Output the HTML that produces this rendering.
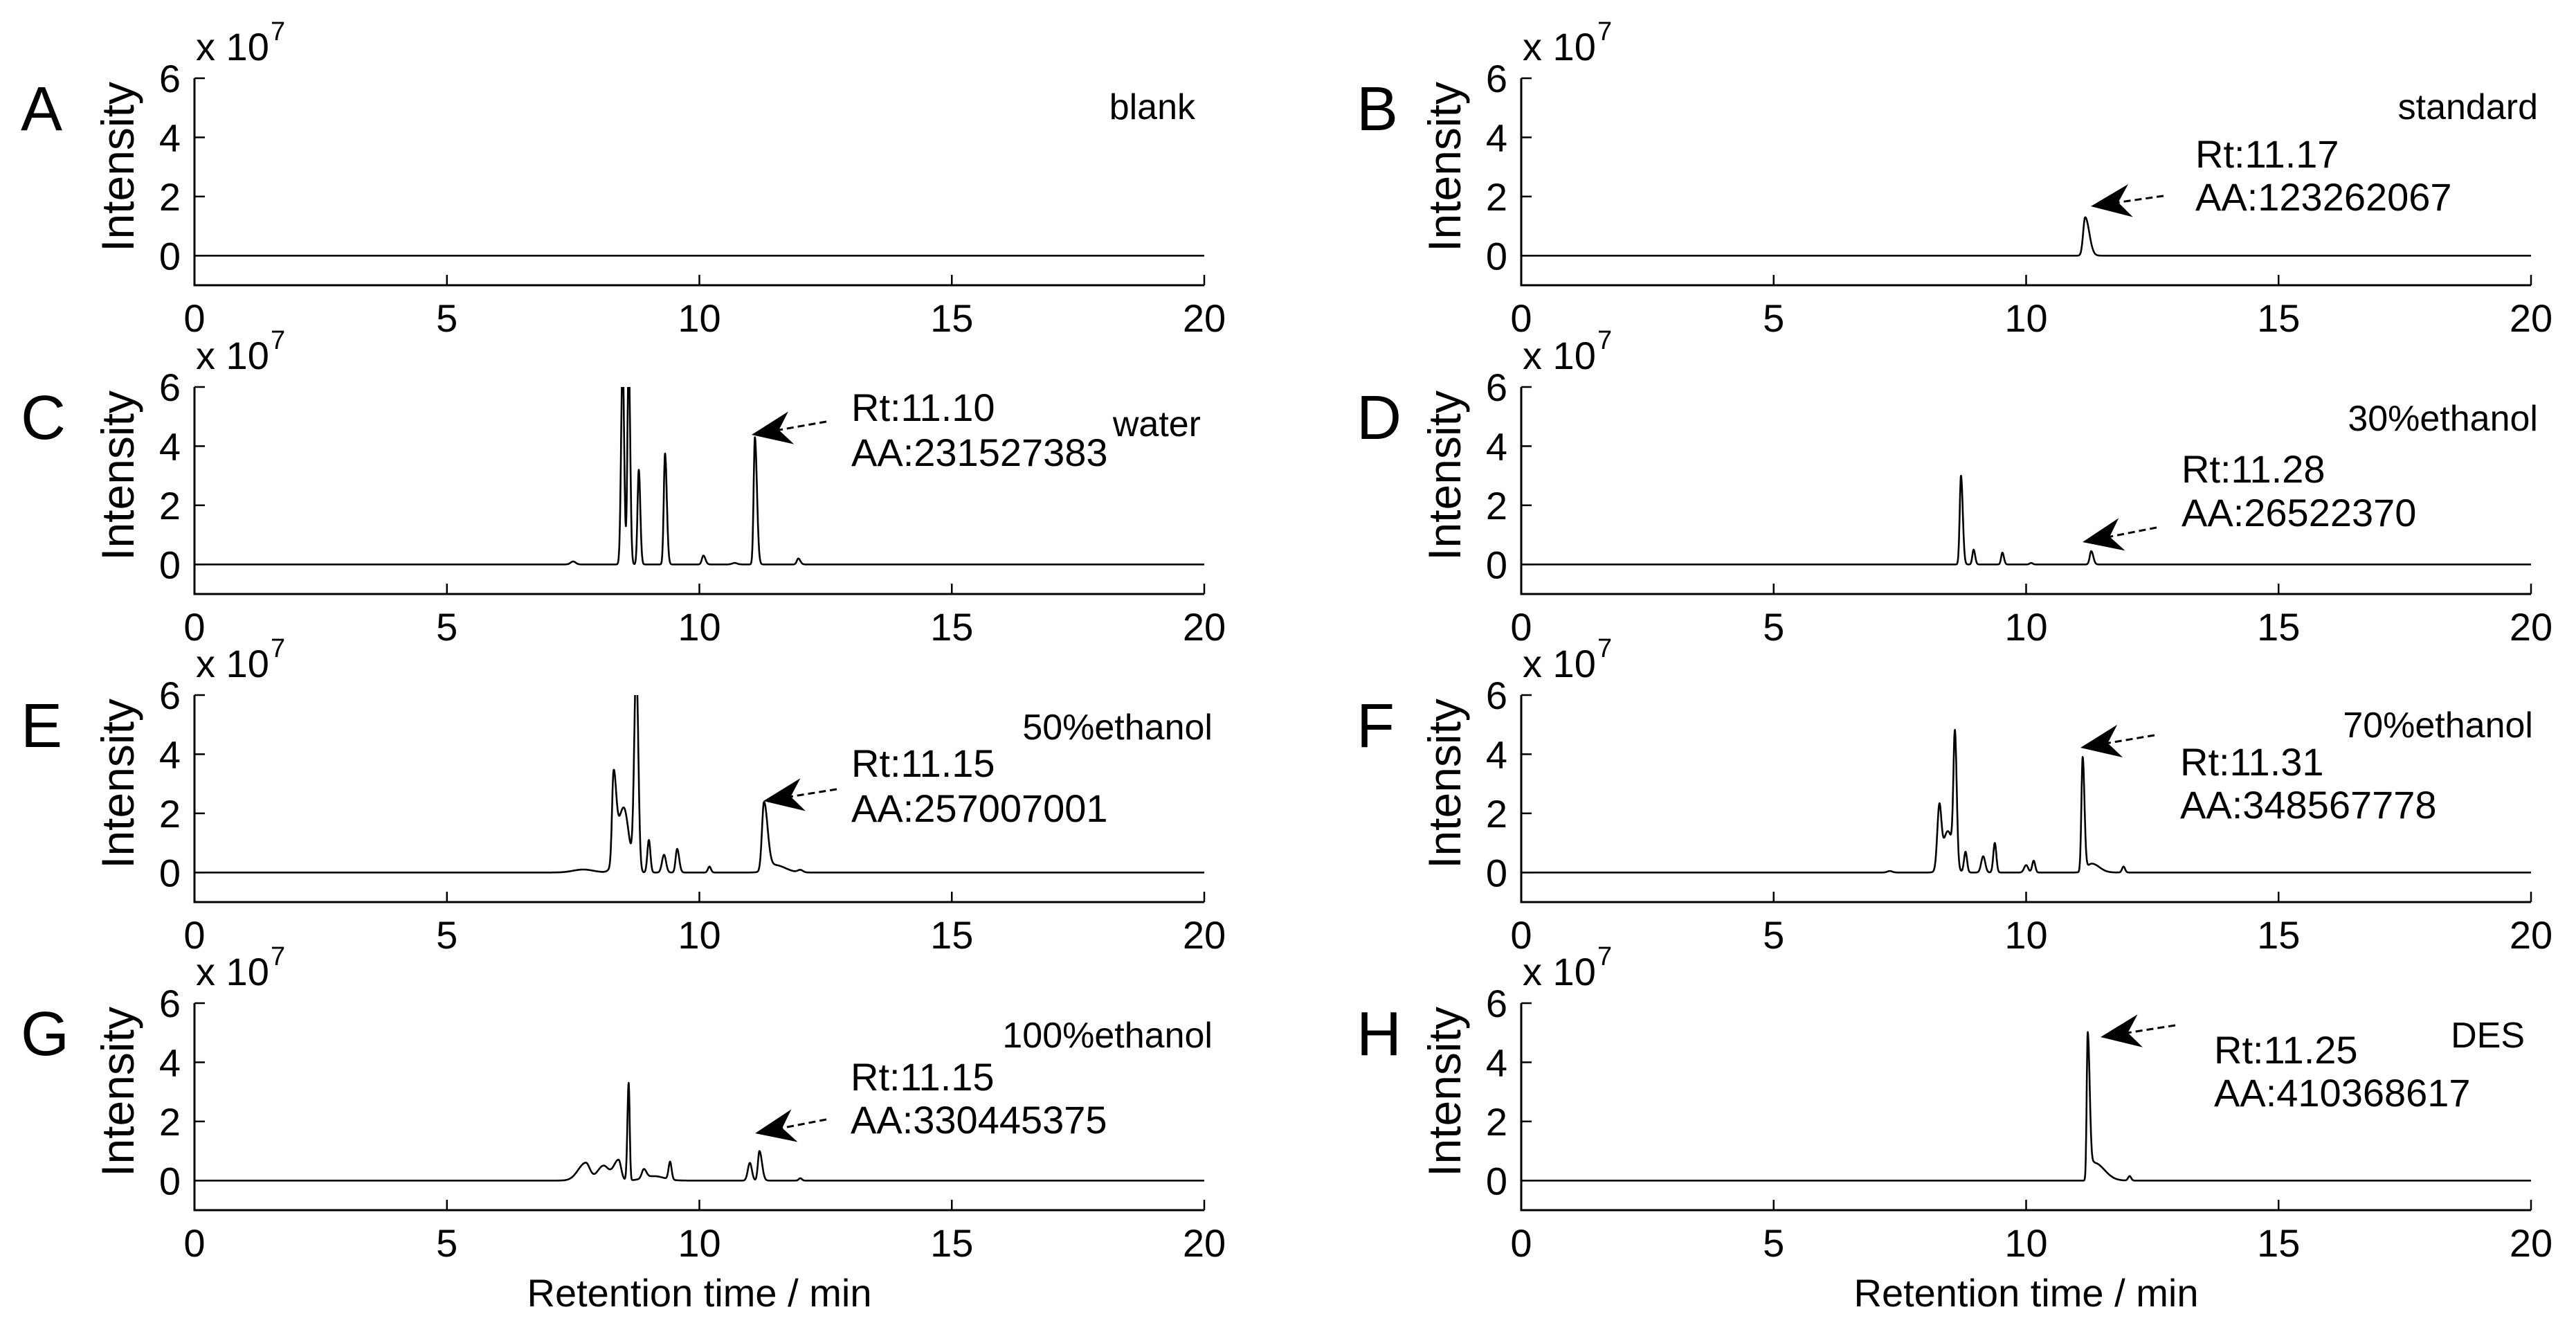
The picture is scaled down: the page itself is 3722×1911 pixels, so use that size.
<!DOCTYPE html>
<html><head><meta charset="utf-8"><style>
html,body{margin:0;padding:0;background:#fff;}
svg{display:block;font-family:"Liberation Sans",Arial,sans-serif;}
</style></head><body>
<svg id="fig" width="3722" height="1911" viewBox="0 0 3722 1911" xmlns="http://www.w3.org/2000/svg"></svg>
<script>
// ---- data (peaks: retention time [min], height [x1e7], left sigma, right sigma) ----
const panelLetters = ["A","B","C","D","E","F","G","H"];
const panelLabels = ["blank","standard","water","30%ethanol","50%ethanol","70%ethanol","100%ethanol","DES"];
const rtLabels = ["","Rt:11.17","Rt:11.10","Rt:11.28","Rt:11.15","Rt:11.31","Rt:11.15","Rt:11.25"];
const aaLabels = ["","AA:123262067","AA:231527383","AA:26522370","AA:257007001","AA:348567778","AA:330445375","AA:410368617"];
const xTicks = [0,5,10,15,20];
const yTicks = [0,2,4,6];
const peaksA = [];
const peaksB = [[11.17,1.3,0.04,0.08]];
const peaksC = [[7.5,0.1,0.05,0.05],[8.48,7,0.03,0.03],[8.6,7,0.025,0.03],[8.8,3.2,0.025,0.03],[9.32,3.75,0.025,0.035],[10.08,0.3,0.03,0.04],[10.7,0.05,0.05,0.05],[11.1,4.3,0.025,0.04],[11.96,0.2,0.03,0.04]];
const peaksD = [[8.71,3.0,0.025,0.035],[8.96,0.5,0.025,0.03],[9.53,0.4,0.025,0.03],[10.1,0.05,0.03,0.03],[11.29,0.45,0.03,0.04]];
const peaksE = [[7.7,0.1,0.2,0.2],[8.3,2.9,0.03,0.05],[8.5,2.2,0.12,0.1],[8.75,7,0.04,0.04],[9.0,1.1,0.03,0.03],[9.3,0.6,0.04,0.04],[9.56,0.8,0.03,0.04],[10.2,0.2,0.03,0.03],[11.28,2.3,0.04,0.07],[11.5,0.25,0.15,0.2],[12.0,0.08,0.05,0.05]];
const peaksF = [[7.3,0.05,0.05,0.05],[8.28,2.0,0.04,0.04],[8.45,1.4,0.1,0.1],[8.59,4.3,0.03,0.035],[8.8,0.7,0.03,0.03],[9.15,0.55,0.04,0.04],[9.38,1.0,0.03,0.03],[10.0,0.25,0.04,0.04],[10.15,0.4,0.03,0.03],[11.12,3.85,0.025,0.035],[11.3,0.3,0.1,0.15],[11.93,0.2,0.03,0.03]];
const peaksG = [[7.75,0.6,0.15,0.08],[8.1,0.5,0.12,0.1],[8.4,0.7,0.1,0.05],[8.6,3.3,0.025,0.02],[8.9,0.3,0.04,0.05],[9.1,0.15,0.2,0.2],[9.42,0.6,0.03,0.03],[11.0,0.6,0.04,0.04],[11.19,1.0,0.03,0.05],[12.0,0.08,0.03,0.03]];
const peaksH = [[11.22,5.0,0.02,0.04],[11.35,0.6,0.05,0.2],[12.05,0.15,0.03,0.03]];
const allPeaks = [peaksA,peaksB,peaksC,peaksD,peaksE,peaksF,peaksG,peaksH];

// ---- layout ----
const NS = "http://www.w3.org/2000/svg";
const svg = document.getElementById("fig");
const colX = [281, 2198];
const plotW = 1459;
const rowTop = [113, 559, 1004, 1449];
const plotH = 299;
const yMin = -1, yMax = 6, xMin = 0, xMax = 20;
const annot = [
  {lab:[1727,172]},
  {lab:[3667,172], rt:[3172,242], aa:[3172,304], tip:[3021,298], tail:[3126,283]},
  {lab:[1735,630], rt:[1230,608], aa:[1230,673], tip:[1086,628], tail:[1194,609]},
  {lab:[3667,622], rt:[3152,697], aa:[3152,760], tip:[3009,783], tail:[3116,762]},
  {lab:[1752,1068], rt:[1230,1122], aa:[1230,1187], tip:[1103,1157], tail:[1209,1140]},
  {lab:[3660,1065], rt:[3150,1120], aa:[3150,1182], tip:[3006,1080], tail:[3113,1062]},
  {lab:[1752,1513], rt:[1229,1575], aa:[1229,1637], tip:[1091,1637], tail:[1194,1617]},
  {lab:[3648,1513], rt:[3199,1536], aa:[3199,1598], tip:[3035,1498], tail:[3143,1481]}
];

function mk(tag, attrs, parent){
  const e = document.createElementNS(NS, tag);
  for (const k in attrs) e.setAttribute(k, attrs[k]);
  (parent||svg).appendChild(e);
  return e;
}
function txt(s, x, y, size, anchor, parent){
  const t = mk("text", {x:x, y:y, "font-size":size, "text-anchor":anchor||"start", fill:"#000"}, parent);
  t.textContent = s;
  return t;
}
function signal(peaks, t){
  let v = 0;
  for (const p of peaks){
    const s = t < p[0] ? p[2] : p[3];
    const d = (t - p[0]) / s;
    v += p[1] * Math.exp(-0.5*d*d);
  }
  return v;
}

const defs = mk("defs", {});
for (let i = 0; i < 8; i++){
  const col = i % 2, row = Math.floor(i/2);
  const x0 = colX[col], top = rowTop[row], bottom = top + plotH;
  const xs = v => x0 + (v - xMin) / (xMax - xMin) * plotW;
  const ys = v => bottom - (v - yMin) / (yMax - yMin) * plotH;
  const g = mk("g", {});
  
  

  const cp = mk("clipPath", {id:"clip"+i}, defs);
  mk("rect", {x:x0, y:top, width:plotW, height:plotH}, cp);

  const pts = [];
  for (let k = 0; k <= 4000; k++){
    const t = xMin + (xMax - xMin) * k / 4000;
    pts.push(xs(t).toFixed(1) + "," + ys(signal(allPeaks[i], t)).toFixed(1));
  }
  const line = mk("polyline", {points:pts.join(" "), fill:"none", stroke:"#000", "stroke-width":2.6, "stroke-linejoin":"round", "clip-path":"url(#clip"+i+")"}, g);
  
  

  const ax = mk("path", {d:`M${x0},${top} L${x0},${bottom} L${x0+plotW},${bottom}`, fill:"none", stroke:"#000", "stroke-width":3}, g);
  
  
  for (const v of xTicks){
    mk("line", {x1:xs(v), y1:bottom, x2:xs(v), y2:bottom-15, stroke:"#000", "stroke-width":2.5}, g);
    const tl = txt(String(v), xs(v), bottom+67, 56, "middle", g);
    
    
  }
  for (const v of yTicks){
    mk("line", {x1:x0, y1:ys(v), x2:x0+15, y2:ys(v), stroke:"#000", "stroke-width":2.5}, g);
    const tl = txt(String(v), x0-20, ys(v)+20, 56, "end", g);
    
    
  }
  const ex = txt("x 10", x0+2, top-26, 56, "start", g);
  
  
  txt("7", x0+110, top-55, 38, "start", g);
  const yt = mk("text", {x:0, y:0, "font-size":66, "text-anchor":"middle", transform:`translate(${x0-88},${top+128}) rotate(-90)`, fill:"#000"}, g);
  yt.textContent = "Intensity";
  
  
  const pl = txt(panelLetters[i], col === 0 ? 30 : 1960, top+75, 90, "start", g);
  
  
  const a = annot[i];
  const sl = txt(panelLabels[i], a.lab[0], a.lab[1], 52, "end", g);
  
  
  if (a.rt){
    const r = txt(rtLabels[i], a.rt[0], a.rt[1], 56, "start", g);
    
    
    const aa = txt(aaLabels[i], a.aa[0], a.aa[1], 56, "start", g);
    
    
    const dx = a.tip[0]-a.tail[0], dy = a.tip[1]-a.tail[1];
    const L = Math.hypot(dx, dy), ux = dx/L, uy = dy/L, nx = -uy, ny = ux;
    const hl = 58, hw = 24, notch = 40;
    const bx = a.tip[0]-ux*hl, by = a.tip[1]-uy*hl;
    const arrow = mk("g", {}, g);
    
    
    mk("line", {x1:a.tail[0], y1:a.tail[1], x2:a.tip[0]-ux*notch, y2:a.tip[1]-uy*notch, stroke:"#000", "stroke-width":3, "stroke-dasharray":"10,6"}, arrow);
    mk("polygon", {points:`${a.tip[0]},${a.tip[1]} ${bx+nx*hw},${by+ny*hw} ${a.tip[0]-ux*notch},${a.tip[1]-uy*notch} ${bx-nx*hw},${by-ny*hw}`, fill:"#000"}, arrow);
  }
}
for (const c of [0,1]){
  const t = txt("Retention time / min", colX[c]+plotW/2, 1887, 56, "middle");
  
  
}
</script>
</body></html>
